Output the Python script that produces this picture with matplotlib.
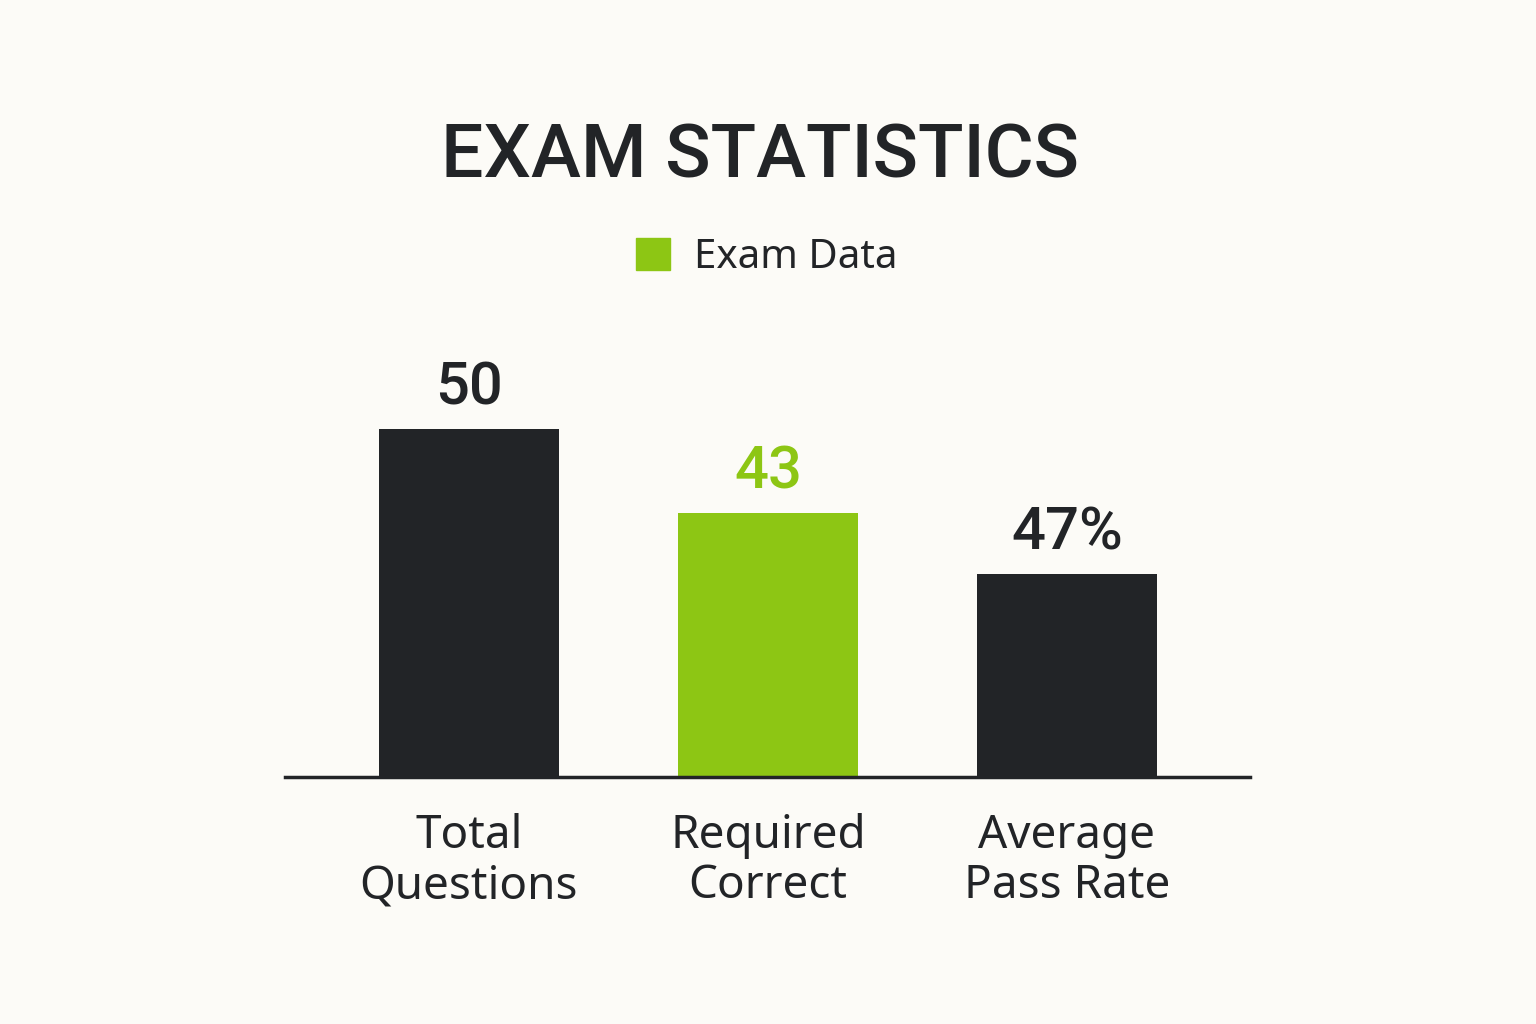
import matplotlib.pyplot as plt
from matplotlib.patches import Patch

# 数据
categories = ['Total\nQuestions', 'Required\nCorrect', 'Average\nPass Rate']
value_labels = ['50', '43', '47%']
# bar heights as drawn in the picture (mixed units, not to one scale)
bar_heights = [50, 37.9, 29.2]
legend_label = 'Exam Data'

dark = '#222427'
green = '#8DC614'
bg = '#FCFBF7'
colors = [dark, green, dark]
label_colors = [dark, green, dark]

plt.rcParams['font.family'] = ['Noto Sans', 'DejaVu Sans']
bold_family = ['Roboto', 'DejaVu Sans']

fig = plt.figure(figsize=(15.36, 10.24), dpi=100, facecolor=bg)
ax = fig.add_axes([285 / 1536, 1 - 777 / 1024, 965 / 1536, 418 / 1024])
ax.set_facecolor(bg)

x = range(len(categories))
bars = ax.bar(x, bar_heights, width=0.6, color=colors, zorder=2)

for rect, lab, c in zip(bars, value_labels, label_colors):
    ax.annotate(lab, (rect.get_x() + rect.get_width() / 2, rect.get_height()),
                xytext=(0, 9), textcoords='offset points', ha='center', va='bottom',
                fontsize=43, fontweight='medium', family=bold_family, color=c)

ax.set_xlim(-0.615, 2.612)
ax.set_ylim(0, 60)
ax.set_xticks(list(x))
ax.set_xticklabels(categories, fontsize=33, color=dark, linespacing=1.12)
ax.tick_params(axis='x', length=0, pad=26)
ax.set_yticks([])
for s in ['top', 'right', 'left']:
    ax.spines[s].set_visible(False)
ax.spines['bottom'].set_color(dark)
ax.spines['bottom'].set_linewidth(2.5)
ax.spines['bottom'].set_zorder(3)

fig.text(760 / 1536, 1 - 157 / 1024, 'EXAM STATISTICS', ha='center', va='center',
         fontsize=54, fontweight='medium', family=bold_family, color=dark)

handle = Patch(facecolor=green, edgecolor=green, label=legend_label)
fig.legend(handles=[handle], loc='center', bbox_to_anchor=(767 / 1536, 1 - 258 / 1024),
           frameon=False, fontsize=29, handlelength=0.85, handleheight=0.85,
           handletextpad=0.6, labelcolor=dark)

fig.savefig('out.png', dpi=100, facecolor=bg)
